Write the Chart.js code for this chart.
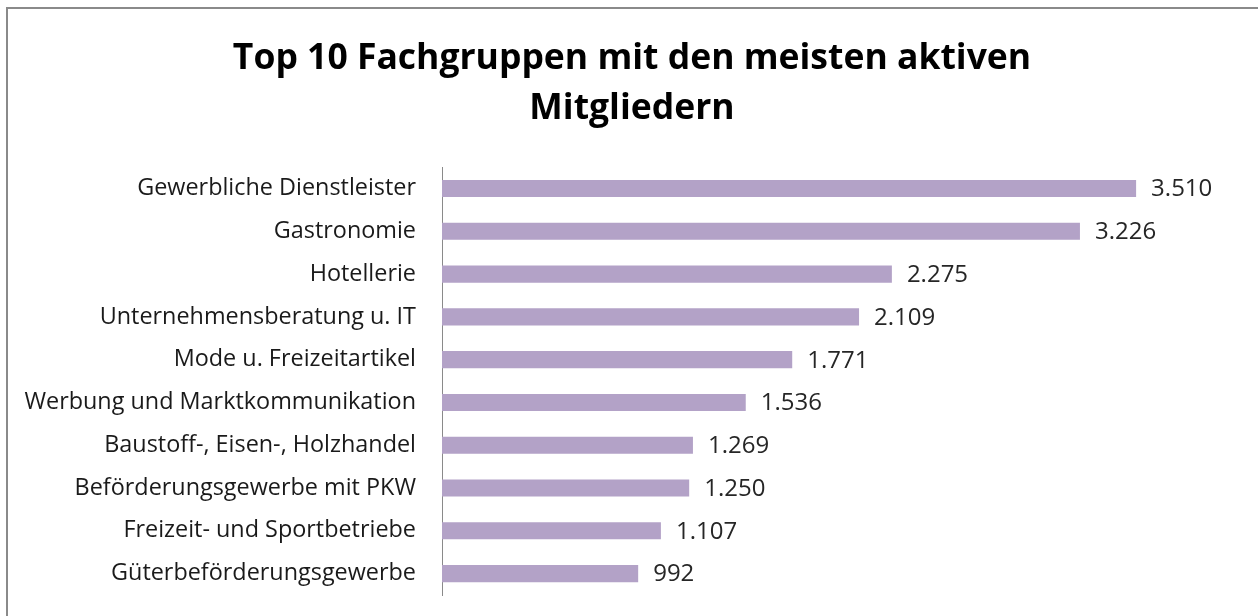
<!DOCTYPE html>
<html>
<head>
<meta charset="utf-8">
<script src="https://cdn.jsdelivr.net/npm/chart.js@4"></script>
<style>
  html, body { margin: 0; padding: 0; background: #fff; }
  #wrap { position: relative; width: 1258px; height: 616px; overflow: hidden; }
  #frame {
    position: absolute; left: 6px; top: 7px; width: 1300px; height: 700px;
    border-left: 2px solid #8a8a8a; border-top: 2px solid #8a8a8a;
  }
  canvas { position: absolute; left: 0; top: 0; }
</style>
</head>
<body>
<div id="wrap">
  <div id="frame"></div>
  <canvas id="chart" width="1258" height="616"></canvas>
</div>
<script>
const categories = [
    "Gewerbliche Dienstleister",
    "Gastronomie",
    "Hotellerie",
    "Unternehmensberatung u. IT",
    "Mode u. Freizeitartikel",
    "Werbung und Marktkommunikation",
    "Baustoff-, Eisen-, Holzhandel",
    "Beförderungsgewerbe mit PKW",
    "Freizeit- und Sportbetriebe",
    "Güterbeförderungsgewerbe"
];
const members = [3510, 3226, 2275, 2109, 1771, 1536, 1269, 1250, 1107, 992];
const titleLines = ["Top 10 Fachgruppen mit den meisten aktiven", "Mitgliedern"];

// German thousands separator, e.g. 3510 -> "3.510"
function formatNumber(n) {
    return String(n).replace(/\B(?=(\d{3})+(?!\d))/g, ".");
}

// draws the value to the right of each bar
const valueLabels = {
    id: "valueLabels",
    afterDatasetsDraw(chart) {
        const ctx = chart.ctx;
        const meta = chart.getDatasetMeta(0);
        ctx.save();
        ctx.font = "24px 'Open Sans'";
        ctx.fillStyle = "#262626";
        ctx.textAlign = "left";
        ctx.textBaseline = "middle";
        meta.data.forEach((bar, i) => {
            ctx.fillText(formatNumber(members[i]), bar.x + 15, bar.y + 1);
        });
        ctx.restore();
    }
};

// long category names reach into the left padding; widen the label clip area
const noLabelClip = {
    id: "noLabelClip",
    afterLayout(chart) {
        chart.scales.y.left = 0;
    }
};

new Chart(document.getElementById("chart"), {
    type: "bar",
    data: {
        labels: categories,
        datasets: [{
            data: members,
            backgroundColor: "#b3a2c7",
            borderWidth: 0,
            categoryPercentage: 1,
            barPercentage: 0.4
        }]
    },
    options: {
        indexAxis: "y",
        responsive: false,
        animation: false,
        layout: { padding: { left: 31, right: 25, top: 0, bottom: 21 } },
        plugins: {
            legend: { display: false },
            tooltip: { enabled: false },
            title: {
                display: true,
                text: titleLines,
                color: "#000",
                font: { family: "'Open Sans'", size: 35.5, weight: "bold", lineHeight: 1.41 },
                padding: { top: 34, bottom: 33 }
            }
        },
        scales: {
            x: {
                display: false,
                min: 0,
                max: 4000
            },
            y: {
                grid: { display: false, drawTicks: false },
                border: { display: true, color: "#8a8a8a", width: 1 },
                ticks: {
                    color: "#1a1a1a",
                    font: { family: "'Open Sans'", size: 23.4 },
                    padding: 26
                },
                afterFit(scale) {
                    scale.width = 411;
                    // don't let label height/padding shrink the plot area
                    scale.paddingTop = 0;
                    scale.paddingBottom = 0;
                }
            }
        }
    },
    plugins: [valueLabels, noLabelClip]
});
</script>
</body>
</html>
